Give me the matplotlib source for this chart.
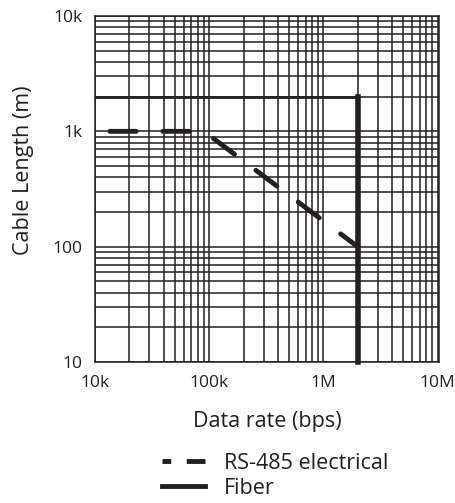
import matplotlib
matplotlib.use("Agg")
import matplotlib.pyplot as plt
from matplotlib.ticker import FixedLocator, LogLocator, NullFormatter
from matplotlib.lines import Line2D

# data
rs485_rate = [13.5e3, 90e3, 2e6]
rs485_length = [1000, 1000, 100]
fiber_rate = [1e4, 2e6, 2e6]
fiber_length = [2000, 2000, 10]

x_ticks = [1e4, 1e5, 1e6, 1e7]
x_labels = ["10k", "100k", "1M", "10M"]
y_ticks = [10, 100, 1000, 10000]
y_labels = ["10", "100", "1k", "10k"]

ink = "#231f20"
plt.rcParams['font.family'] = ['Open Sans', 'DejaVu Sans']

fig = plt.figure(figsize=(4.56, 5.03), dpi=100)
ax = fig.add_axes([0.2083, 0.2803, 0.7544, 0.6879])

ax.set_xscale('log')
ax.set_yscale('log')
ax.set_xlim(1e4, 1.03e7)
ax.set_ylim(10, 1e4)

ax.xaxis.set_major_locator(FixedLocator(x_ticks))
ax.set_xticklabels(x_labels)
ax.yaxis.set_major_locator(FixedLocator(y_ticks))
ax.set_yticklabels(y_labels)
ax.xaxis.set_minor_locator(LogLocator(base=10, subs=range(2, 10)))
ax.yaxis.set_minor_locator(LogLocator(base=10, subs=range(2, 10)))
ax.xaxis.set_minor_formatter(NullFormatter())
ax.yaxis.set_minor_formatter(NullFormatter())
ax.tick_params(which='both', length=0, labelsize=12.5, colors=ink)
ax.tick_params(axis='x', pad=9)
ax.tick_params(axis='y', pad=9)

ax.grid(which='both', color=ink, lw=1.1)
for s in ax.spines.values():
    s.set_color(ink)
    s.set_linewidth(1.1)

# fiber: thin horizontal, thick vertical
ax.plot(fiber_rate[:2], fiber_length[:2], color=ink, lw=2.0, zorder=3)
ax.plot(fiber_rate[1:], fiber_length[1:], color=ink, lw=4.0, zorder=3,
        clip_on=False)

ax.plot(rs485_rate, rs485_length, color=ink, lw=3.5, dashes=(5.4, 5.5),
        dash_capstyle='round', zorder=4)

ax.set_ylabel("Cable Length (m)", fontsize=15.5, color=ink)
ax.yaxis.set_label_coords(-0.177, 0.555)
ax.set_xlabel("Data rate (bps)", fontsize=15.5, color=ink, labelpad=15)

handles = [Line2D([], [], color=ink, lw=3.5, dashes=(1.8, 3.2, 4.0, 5)),
           Line2D([], [], color=ink, lw=3.5)]
fig.legend(handles, ["RS-485 electrical", "Fiber"], loc='upper left',
           bbox_to_anchor=(0.355, 0.1), frameon=False, fontsize=15.5,
           handlelength=2.0, handletextpad=0.9, labelspacing=0.18,
           borderaxespad=0, borderpad=0, labelcolor=ink)

fig.savefig("out.png", dpi=100)
